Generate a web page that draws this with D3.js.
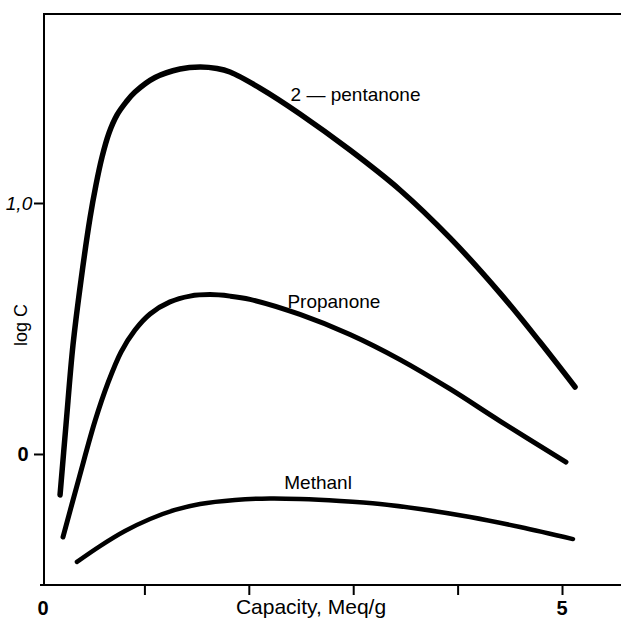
<!DOCTYPE html>
<html>
<head>
<meta charset="utf-8">
<script src="https://cdn.jsdelivr.net/npm/d3@7"></script>
<style>
  html, body { margin: 0; padding: 0; background: #fff; }
  svg { display: block; }
  text { font-family: "Liberation Sans", Arial, Helvetica, sans-serif; fill: #000; }
</style>
</head>
<body>
<svg id="chart" width="621" height="619"></svg>
<script>
// ---- data ----
const pentanoneX = [0.192, 0.249, 0.316, 0.393, 0.479, 0.536, 0.594, 0.661, 0.738, 0.824, 0.910, 1.102, 1.341, 1.533, 1.695, 1.820, 2.107, 2.490, 2.969, 3.448, 3.927, 4.406, 4.789, 5.125];
const pentanoneY = [-0.163, 0.116, 0.434, 0.693, 0.940, 1.072, 1.183, 1.279, 1.351, 1.402, 1.442, 1.500, 1.534, 1.542, 1.536, 1.522, 1.458, 1.355, 1.211, 1.052, 0.861, 0.641, 0.446, 0.267];

const propanoneX = [0.220, 0.374, 0.527, 0.651, 0.776, 0.910, 1.054, 1.245, 1.437, 1.628, 1.820, 2.011, 2.490, 2.969, 3.448, 3.927, 4.406, 5.038];
const propanoneY = [-0.331, -0.096, 0.131, 0.283, 0.406, 0.494, 0.558, 0.606, 0.629, 0.635, 0.629, 0.616, 0.556, 0.476, 0.376, 0.259, 0.131, -0.032];

const methanlX = [0.354, 0.575, 0.814, 1.054, 1.293, 1.533, 1.868, 2.203, 2.490, 2.874, 3.257, 3.640, 4.119, 4.598, 5.105];
const methanlY = [-0.430, -0.367, -0.307, -0.259, -0.223, -0.199, -0.183, -0.177, -0.179, -0.187, -0.199, -0.219, -0.251, -0.291, -0.339];

const seriesNames = ["2 \u2014 pentanone", "Propanone", "Methanl"];
const xTickValues = [1, 2, 3, 4, 5];
const xTickLabels = ["0", "5"];
const xTickLabelValues = [0, 5];
const yTickValues = [0, 1];
const yTickLabels = ["0", "1,0"];

// ---- scales ----
const svg = d3.select("#chart");
const x = d3.scaleLinear().domain([0, 5.565]).range([40, 621]);
const y = d3.scaleLinear().domain([-0.522, 1.757]).range([585, 13]);

// top border
svg.append("line").attr("x1", x(0) + 3).attr("x2", 621).attr("y1", y(1.757) + 1).attr("y2", y(1.757) + 1)
  .attr("stroke", "#000").attr("stroke-width", 2);

// x axis
const xAxis = d3.axisBottom(x).tickValues(xTickValues).tickSize(10).tickFormat("");
const gx = svg.append("g").attr("transform", `translate(0,${y(-0.522)})`).call(xAxis);
gx.select(".domain").attr("stroke-width", 2).attr("d", `M${x(0)},0H621`);
gx.selectAll(".tick line").attr("stroke-width", 2);
svg.selectAll(".xlab").data(xTickLabelValues).enter().append("text")
  .attr("class", "xlab")
  .attr("x", d => x(d) + (d === 0 ? 3 : 0))
  .attr("y", 615)
  .attr("text-anchor", "middle")
  .style("font-size", "20px").style("font-weight", "bold")
  .text((d, i) => xTickLabels[i]);

svg.append("text").attr("x", 311).attr("y", 614).attr("text-anchor", "middle")
  .style("font-size", "21px").text("Capacity, Meq/g");

// y axis
const yAxis = d3.axisLeft(y).tickValues(yTickValues).tickSize(10).tickFormat("");
const gy = svg.append("g").attr("transform", `translate(${x(0) + 4},0)`).call(yAxis);
gy.select(".domain").attr("stroke-width", 2).attr("d", `M0,${y(1.757)}V${y(-0.522)}`);
gy.selectAll(".tick line").attr("stroke-width", 2);
svg.selectAll(".ylab").data(yTickValues).enter().append("text")
  .attr("class", "ylab")
  .attr("x", (d, i) => i === 0 ? 23 : 19)
  .attr("y", d => y(d) + 7)
  .attr("text-anchor", "middle")
  .style("font-size", (d, i) => i === 0 ? "20px" : "19px")
  .style("font-weight", (d, i) => i === 0 ? "bold" : "normal")
  .style("font-style", (d, i) => i === 0 ? "normal" : "italic")
  .text((d, i) => yTickLabels[i]);

svg.append("text").attr("transform", `translate(27,325) rotate(-90)`)
  .attr("text-anchor", "middle").style("font-size", "18px").text("log C");

// curves
const line = d3.line().x(d => x(d[0])).y(d => y(d[1])).curve(d3.curveCatmullRom.alpha(0.5));
const series = [
  { xs: pentanoneX, ys: pentanoneY, w: 5.5 },
  { xs: propanoneX, ys: propanoneY, w: 5 },
  { xs: methanlX, ys: methanlY, w: 4.5 }
];
series.forEach(s => {
  const pts = s.xs.map((v, i) => [v, s.ys[i]]);
  svg.append("path").datum(pts).attr("d", line)
    .attr("fill", "none").attr("stroke", "#000").attr("stroke-width", s.w)
    .attr("stroke-linecap", "round").attr("stroke-linejoin", "round");
});

// series labels
const labelPos = [[2.40, 1.406], [2.37, 0.58], [2.34, -0.14]];
seriesNames.forEach((name, i) => {
  svg.append("text").attr("x", x(labelPos[i][0])).attr("y", y(labelPos[i][1]))
    .style("font-size", "19px").text(name);
});
</script>
</body>
</html>
